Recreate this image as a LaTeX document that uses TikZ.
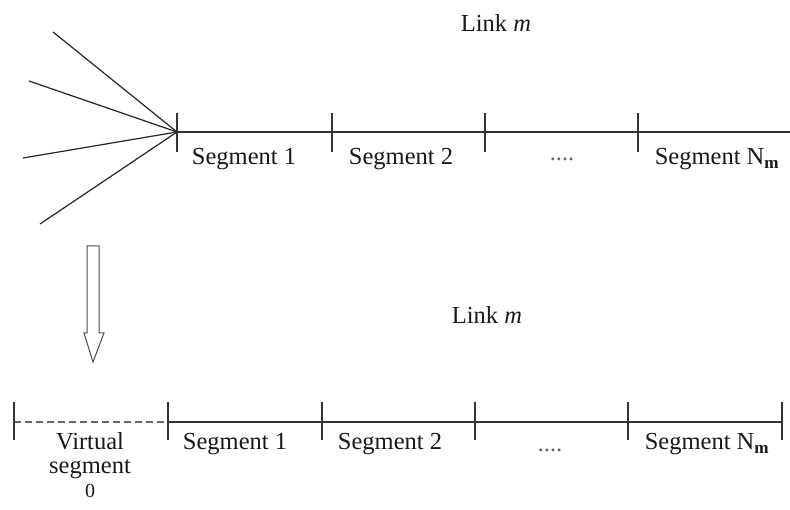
\documentclass[tikz,border=0pt]{standalone}
\usepackage{fontspec}
\setmainfont{Liberation Serif}
\usetikzlibrary{calc}
\begin{document}
\begin{tikzpicture}[x=1pt,y=-1pt,
  linkline/.style={draw=black!80,line width=1.5pt},
  tickmark/.style={draw=black!80,line width=1.5pt},
  fanline/.style={draw=black!85,line width=1.2pt},
  lbl/.style={font=\fontsize{24.5}{26}\selectfont,inner sep=0pt,text=black!90},
  virt/.style={draw=black!60,line width=1.5pt,dash pattern=on 7pt off 4pt}]
\useasboundingbox[fill=white] (0,0) rectangle (790,510);
% top line coordinates
\coordinate (t0) at (177,132);
\coordinate (t1) at (332,132);
\coordinate (t2) at (485,132);
\coordinate (t3) at (638,132);
\coordinate (t4) at (790,132);
\path[linkline] (t0) -- (t1) -- (t2) -- (t3) -- (t4);
\foreach \c in {t0,t1,t2,t3}{\path[tickmark] ($(\c)+(0,-19)$) -- ($(\c)+(0,20)$);}
% fan lines
\coordinate (f1) at (53,32);
\coordinate (f2) at (29,81);
\coordinate (f3) at (23,158);
\coordinate (f4) at (40,224);
\foreach \f in {f1,f2,f3,f4}{\path[fanline] (\f) -- (t0);}
% top labels
\node[lbl] (tlink) at (496,23) {Link \textit{m}};
\node[lbl] (ts1) at (244,159) {Segment 1};
\node[lbl] (ts2) at (401,159) {Segment 2};
\node[lbl,text=black!60] (tsd) at (562,159) {....};
\node[lbl] (tsn) at (717,159) {Segment N\textsubscript{\textbf{m}}};
% hollow arrow
\path[draw=black!70,line width=1pt,fill=white] (87,246) -- (99,246) -- (99,333) -- (104,333) -- (93,362) -- (84,333) -- (87,333) -- cycle;
% bottom line
\coordinate (b0) at (14,422);
\coordinate (b1) at (168,422);
\coordinate (b2) at (322,422);
\coordinate (b3) at (475,422);
\coordinate (b4) at (628,422);
\coordinate (b5) at (782,422);
\path[virt] (b0) -- (b1);
\path[linkline] (b1) -- (b2) -- (b3) -- (b4) -- (b5);
\foreach \c in {b0,b1,b2,b3,b4,b5}{\path[tickmark] ($(\c)+(0,-20)$) -- ($(\c)+(0,18)$);}
% bottom labels
\node[lbl] (blink) at (487,315) {Link \textit{m}};
\node[lbl,align=center,font=\fontsize{24.5}{24}\selectfont] (bv) at (90,465) {Virtual\\segment\\{\fontsize{20}{24}\selectfont 0}};
\node[lbl] (bs1) at (235,444) {Segment 1};
\node[lbl] (bs2) at (390,444) {Segment 2};
\node[lbl,text=black!60] (bsd) at (550,450) {....};
\node[lbl] (bsn) at (707,444) {Segment N\textsubscript{\textbf{m}}};
\end{tikzpicture}
\end{document}
